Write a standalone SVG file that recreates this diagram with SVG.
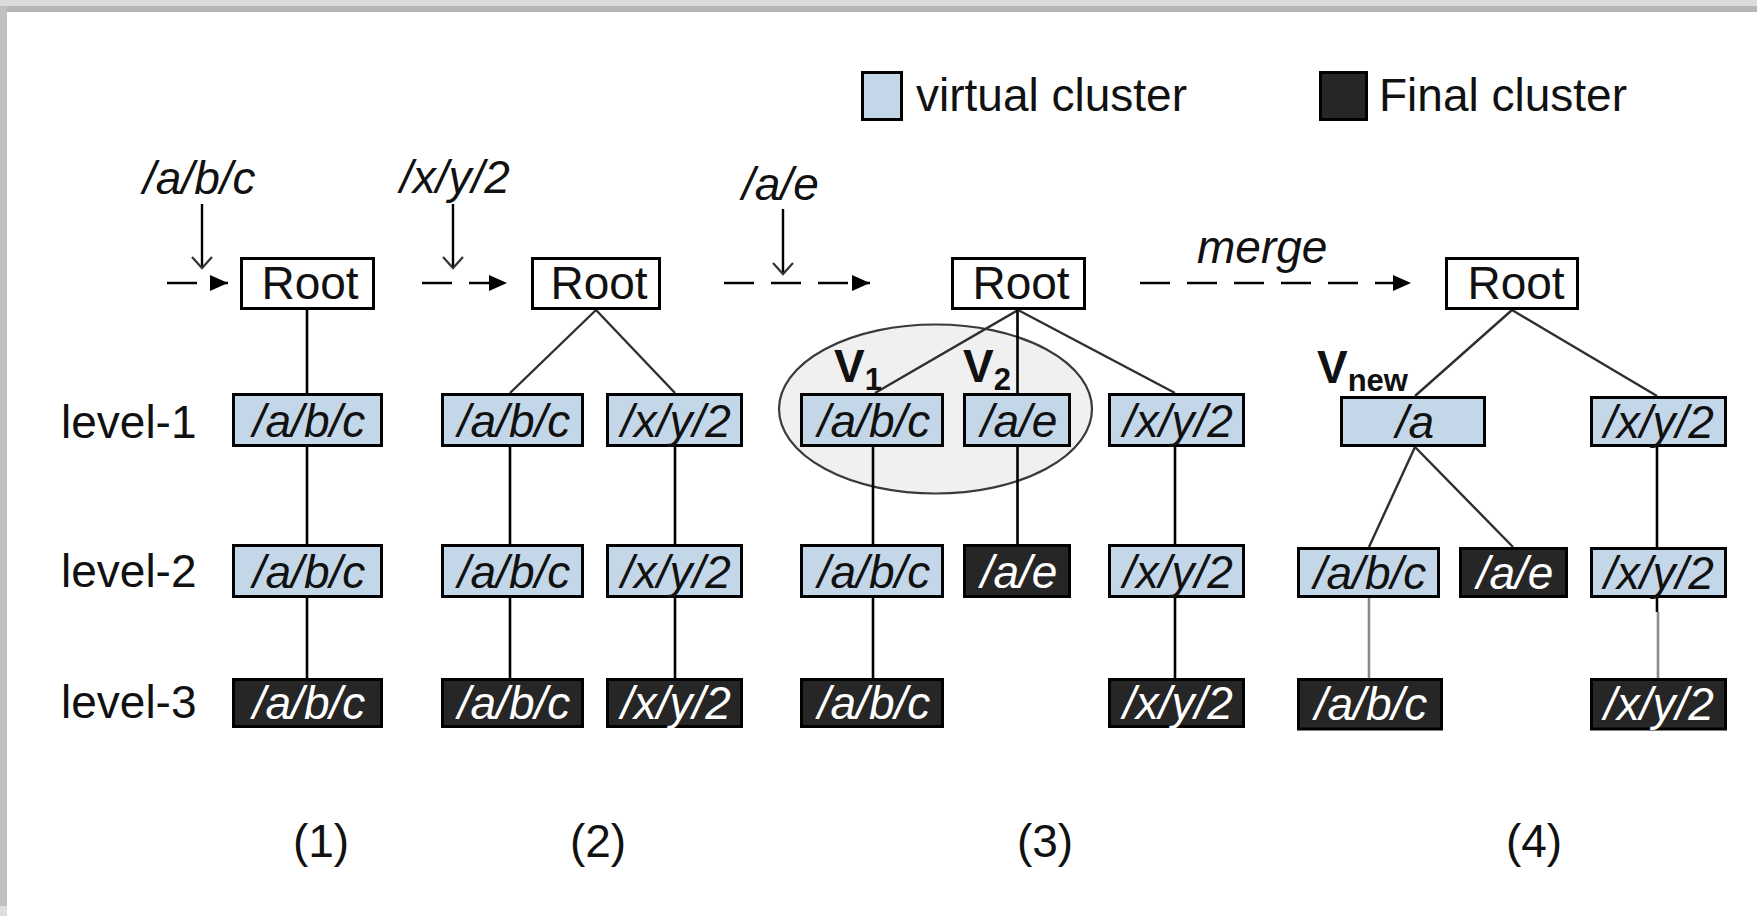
<svg xmlns="http://www.w3.org/2000/svg" width="1757" height="916" viewBox="0 0 1757 916">
  <defs>
    <marker id="solidHead" markerUnits="userSpaceOnUse" markerWidth="20" markerHeight="18" refX="19" refY="9" orient="auto">
      <path d="M1,1 L19,9 L1,17 Z" fill="#000"/>
    </marker>
    <marker id="openHead" markerUnits="userSpaceOnUse" markerWidth="14" markerHeight="24" refX="12" refY="11" orient="auto">
      <path d="M1,1 L12,11 L1,21" fill="none" stroke="#333" stroke-width="2.2"/>
    </marker>
  </defs>
  <style>
    text { font-family: "Liberation Sans", Arial, sans-serif; font-size: 46px; fill: #111; }
    .it { font-style: italic; }
    .mid { text-anchor: middle; }
    .bold { font-weight: bold; }
    .virt { fill: #c4d7e8; stroke: #000; stroke-width: 3; }
    .fin { fill: #262626; stroke: #000; stroke-width: 3; }
    .root { fill: #fff; stroke: #000; stroke-width: 3; }
    .lbl-w { fill: #fff; }
    .v { stroke: #000; stroke-width: 2.6; fill: none; }
    .d { stroke: #2e2e2e; stroke-width: 2.4; fill: none; }
    .g { stroke: #8a8a8a; stroke-width: 2.6; fill: none; }
    .dash { stroke: #000; stroke-width: 2.6; fill: none; stroke-dasharray: 30 17; }
    .drop { stroke: #000; stroke-width: 2.4; fill: none; }
  </style>

  <rect x="0" y="0" width="1757" height="916" fill="#fff"/>
  <!-- page frame shading -->
  <rect x="0" y="0" width="1757" height="6" fill="#dcdcdc"/>
  <rect x="6" y="6" width="1751" height="6" fill="#b6b6b6"/>
  <rect x="0" y="6" width="7" height="900" fill="#c0c0c0"/>
  <rect x="0" y="906" width="7" height="10" fill="#dedede"/>

  <!-- legend -->
  <g id="legend">
    <rect class="virt" x="862.5" y="72.5" width="39" height="47"/>
    <text x="916" y="111">virtual cluster</text>
    <rect class="fin" x="1320.5" y="72.5" width="46" height="47"/>
    <text x="1379" y="111">Final cluster</text>
  </g>

  <!-- level labels -->
  <g id="levels">
    <text x="61" y="438">level-1</text>
    <text x="61" y="587">level-2</text>
    <text x="61" y="718">level-3</text>
  </g>

  <!-- step captions -->
  <g id="captions">
    <text class="mid" x="321" y="857">(1)</text>
    <text class="mid" x="598" y="857">(2)</text>
    <text class="mid" x="1045" y="857">(3)</text>
    <text class="mid" x="1534" y="857">(4)</text>
  </g>

  <!-- grouping of V1 and V2 -->
  <ellipse id="group-v1v2" cx="935.5" cy="409" rx="156.5" ry="84.5" fill="#f0f0f0" stroke="#3a3a3a" stroke-width="2.2"/>

  <g id="connectors">
    <!-- inserted paths -->
    <text class="it" x="143" y="194">/a/b/c</text>
    <text class="it" x="400" y="193">/x/y/2</text>
    <text class="it" x="742" y="200">/a/e</text>
    <text class="it" x="1197" y="263">merge</text>
    <line class="drop" x1="202" y1="204" x2="202" y2="268" marker-end="url(#openHead)"/>
    <line class="drop" x1="453" y1="204" x2="453" y2="268" marker-end="url(#openHead)"/>
    <line class="drop" x1="783" y1="209" x2="783" y2="274" marker-end="url(#openHead)"/>

    <!-- step arrows -->
    <path class="dash" d="M167,283 H228" marker-end="url(#solidHead)"/>
    <path class="dash" d="M422,283 H507" marker-end="url(#solidHead)"/>
    <path class="dash" d="M724,283 H870" marker-end="url(#solidHead)"/>
    <path class="dash" d="M1140,283 H1411" marker-end="url(#solidHead)"/>

    <!-- tree (1) -->
    <line class="v" x1="307" y1="310" x2="307" y2="393"/>
    <line class="v" x1="307" y1="447" x2="307" y2="544"/>
    <line class="v" x1="307" y1="598" x2="307" y2="678"/>

    <!-- tree (2) -->
    <line class="d" x1="596" y1="310" x2="510" y2="393"/>
    <line class="d" x1="596" y1="310" x2="675" y2="393"/>
    <line class="v" x1="510" y1="447" x2="510" y2="544"/>
    <line class="v" x1="510" y1="598" x2="510" y2="678"/>
    <line class="v" x1="675" y1="447" x2="675" y2="544"/>
    <line class="v" x1="675" y1="598" x2="675" y2="678"/>

    <!-- tree (3) -->
    <line class="d" x1="1018" y1="310" x2="875" y2="393"/>
    <line class="v" x1="1017.5" y1="310" x2="1017.5" y2="393"/>
    <line class="d" x1="1018" y1="310" x2="1175" y2="393"/>
    <line class="v" x1="873" y1="447" x2="873" y2="544"/>
    <line class="v" x1="873" y1="598" x2="873" y2="678"/>
    <line class="v" x1="1017.5" y1="447" x2="1017.5" y2="544"/>
    <line class="v" x1="1175" y1="447" x2="1175" y2="544"/>
    <line class="v" x1="1175" y1="598" x2="1175" y2="678"/>

    <!-- tree (4) -->
    <line class="d" x1="1512" y1="310" x2="1415" y2="396"/>
    <line class="d" x1="1512" y1="310" x2="1657" y2="396"/>
    <line class="d" x1="1415" y1="447" x2="1369" y2="547"/>
    <line class="d" x1="1415" y1="447" x2="1513" y2="547"/>
    <line class="v" x1="1657" y1="447" x2="1657" y2="547"/>
    <line class="g" x1="1369" y1="598" x2="1369" y2="678"/>
    <line class="v" x1="1657" y1="598" x2="1657" y2="612"/>
    <line class="g" x1="1658" y1="612" x2="1658" y2="678"/>
  </g>

  <!-- tree (1) nodes -->
  <g id="t1-root"><rect class="root" x="241.5" y="258.5" width="132" height="50"/><text class="mid" x="310" y="299">Root</text></g>
  <g id="t1-l1"><rect class="virt" x="233.5" y="394.5" width="148" height="51"/><text class="it mid" x="309" y="437">/a/b/c</text></g>
  <g id="t1-l2"><rect class="virt" x="233.5" y="545.5" width="148" height="51"/><text class="it mid" x="309" y="588">/a/b/c</text></g>
  <g id="t1-l3"><rect class="fin" x="233.5" y="679.5" width="148" height="47"/><text class="it mid lbl-w" x="309" y="719">/a/b/c</text></g>

  <!-- tree (2) nodes -->
  <g id="t2-root"><rect class="root" x="532.5" y="258.5" width="127" height="50"/><text class="mid" x="599" y="299">Root</text></g>
  <g id="t2-abc-l1"><rect class="virt" x="442.5" y="394.5" width="140" height="51"/><text class="it mid" x="514" y="437">/a/b/c</text></g>
  <g id="t2-abc-l2"><rect class="virt" x="442.5" y="545.5" width="140" height="51"/><text class="it mid" x="514" y="588">/a/b/c</text></g>
  <g id="t2-abc-l3"><rect class="fin" x="442.5" y="679.5" width="140" height="47"/><text class="it mid lbl-w" x="514" y="719">/a/b/c</text></g>
  <g id="t2-xy2-l1"><rect class="virt" x="607.5" y="394.5" width="134" height="51"/><text class="it mid" x="676" y="437">/x/y/2</text></g>
  <g id="t2-xy2-l2"><rect class="virt" x="607.5" y="545.5" width="134" height="51"/><text class="it mid" x="676" y="588">/x/y/2</text></g>
  <g id="t2-xy2-l3"><rect class="fin" x="607.5" y="679.5" width="134" height="47"/><text class="it mid lbl-w" x="676" y="719">/x/y/2</text></g>

  <!-- tree (3) nodes -->
  <g id="t3-root"><rect class="root" x="952.5" y="258.5" width="132" height="50"/><text class="mid" x="1021" y="299">Root</text></g>
  <g id="t3-v1"><rect class="virt" x="801.5" y="394.5" width="141" height="51"/><text class="it mid" x="874" y="437">/a/b/c</text></g>
  <g id="t3-v1-l2"><rect class="virt" x="801.5" y="545.5" width="141" height="51"/><text class="it mid" x="874" y="588">/a/b/c</text></g>
  <g id="t3-v1-l3"><rect class="fin" x="801.5" y="679.5" width="141" height="47"/><text class="it mid lbl-w" x="874" y="719">/a/b/c</text></g>
  <g id="t3-v2"><rect class="virt" x="964.5" y="394.5" width="105" height="51"/><text class="it mid" x="1019" y="437">/a/e</text></g>
  <g id="t3-v2-l2"><rect class="fin" x="964.5" y="545.5" width="105" height="51"/><text class="it mid lbl-w" x="1019" y="588">/a/e</text></g>
  <g id="t3-xy2-l1"><rect class="virt" x="1109.5" y="394.5" width="134" height="51"/><text class="it mid" x="1178" y="437">/x/y/2</text></g>
  <g id="t3-xy2-l2"><rect class="virt" x="1109.5" y="545.5" width="134" height="51"/><text class="it mid" x="1178" y="588">/x/y/2</text></g>
  <g id="t3-xy2-l3"><rect class="fin" x="1109.5" y="679.5" width="134" height="47"/><text class="it mid lbl-w" x="1178" y="719">/x/y/2</text></g>
  <g id="t3-names">
    <text class="bold" x="834" y="382">V<tspan font-size="31" dy="8">1</tspan></text>
    <text class="bold" x="963" y="382">V<tspan font-size="31" dy="8">2</tspan></text>
  </g>

  <!-- tree (4) nodes -->
  <g id="t4-root"><rect class="root" x="1446.5" y="258.5" width="131" height="50"/><text class="mid" x="1516" y="299">Root</text></g>
  <g id="t4-vnew"><rect class="virt" x="1341.5" y="397.5" width="143" height="48"/><text class="it mid" x="1415" y="438">/a</text></g>
  <g id="t4-vnew-name"><text class="bold" x="1317" y="383">V<tspan font-size="31" dy="8">new</tspan></text></g>
  <g id="t4-abc-l2"><rect class="virt" x="1298.5" y="548.5" width="140" height="48"/><text class="it mid" x="1370" y="589">/a/b/c</text></g>
  <g id="t4-ae-l2"><rect class="fin" x="1460.5" y="548.5" width="106" height="48"/><text class="it mid lbl-w" x="1515" y="589">/a/e</text></g>
  <g id="t4-abc-l3"><rect class="fin" x="1298.5" y="679.5" width="143" height="49.5"/><text class="it mid lbl-w" x="1371" y="720">/a/b/c</text></g>
  <g id="t4-xy2-l1"><rect class="virt" x="1591.5" y="397.5" width="134" height="48"/><text class="it mid" x="1659" y="438">/x/y/2</text></g>
  <g id="t4-xy2-l2"><rect class="virt" x="1591.5" y="548.5" width="134" height="48"/><text class="it mid" x="1659" y="589">/x/y/2</text></g>
  <g id="t4-xy2-l3"><rect class="fin" x="1591.5" y="679.5" width="134" height="49.5"/><text class="it mid lbl-w" x="1659" y="720">/x/y/2</text></g>
</svg>
